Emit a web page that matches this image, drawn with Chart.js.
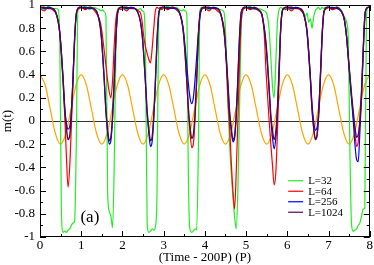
<!DOCTYPE html>
<html>
<head>
<meta charset="utf-8">
<script src="https://cdn.jsdelivr.net/npm/chart.js@4.4.0/dist/chart.umd.min.js"></script>
<style>
  html, body { margin: 0; padding: 0; background: #fff; }
  #wrap { width: 374px; height: 265px; }
</style>
</head>
<body>
<div id="wrap"><canvas id="magChart" width="374" height="265"></canvas></div>
<script>
// Magnetization m(t) over 8 field periods, several lattice sizes

const seriesLabels = ['L=32', 'L=64', 'L=256', 'L=1024'];
const seriesColors = ['#22ee22', '#ff0000', '#0000ff', '#4e0a4e'];

// sample times (in periods) shared by the four m(t) curves
const time = [
  0, 0.1, 0.2, 0.3, 0.38, 0.44, 0.48, 0.52, 0.56, 0.6, 0.64, 0.68, 0.72, 0.76, 0.8, 0.84, 0.88, 0.92, 0.96,
  1, 1.1, 1.2, 1.3, 1.38, 1.44, 1.48, 1.52, 1.56, 1.6, 1.64, 1.68, 1.72, 1.76, 1.8, 1.84, 1.88, 1.92, 1.96,
  2, 2.1, 2.2, 2.3, 2.38, 2.44, 2.48, 2.52, 2.56, 2.6, 2.64, 2.68, 2.72, 2.76, 2.8, 2.84, 2.88, 2.92, 2.96,
  3, 3.1, 3.2, 3.3, 3.38, 3.44, 3.48, 3.52, 3.56, 3.6, 3.64, 3.68, 3.72, 3.76, 3.8, 3.84, 3.88, 3.92, 3.96,
  4, 4.1, 4.2, 4.3, 4.38, 4.44, 4.48, 4.52, 4.56, 4.6, 4.64, 4.68, 4.72, 4.76, 4.8, 4.84, 4.88, 4.92, 4.96,
  5, 5.1, 5.2, 5.3, 5.38, 5.44, 5.48, 5.52, 5.56, 5.6, 5.64, 5.68, 5.72, 5.76, 5.8, 5.84, 5.88, 5.92, 5.96,
  6, 6.1, 6.2, 6.3, 6.38, 6.44, 6.48, 6.52, 6.56, 6.6, 6.64, 6.68, 6.72, 6.76, 6.8, 6.84, 6.88, 6.92, 6.96,
  7, 7.1, 7.2, 7.3, 7.38, 7.44, 7.48, 7.52, 7.56, 7.6, 7.64, 7.68, 7.72, 7.76, 7.8, 7.84, 7.88, 7.92, 7.96,
  8
];

const mL32 = [
  0.98, 0.96, 0.99, 0.97, 0.97, 0.96, 0.7, -0.8, -0.96, -0.95, -0.96, -0.94, -0.93, -0.9, -0.88, -0.86, -0.2, 0.97, 0.98,
  0.97, 0.99, 0.96, 0.98, 0.97, 0.96, 0.95, 0.96, 0.94, 0.9, -0.6, -0.78, -0.82, -0.92, -0.4, 0.6, 0.96, 0.98, 0.97,
  0.98, 0.96, 0.98, 0.97, 0.96, 0.97, 0.95, 0.94, 0.6, -0.9, -0.96, -0.95, -0.93, -0.94, -0.91, -0.6, 0.9, 0.98, 0.97,
  0.97, 0.99, 0.97, 0.98, 0.96, 0.95, 0.96, 0.95, 0.93, -0.5, -0.94, -0.96, -0.95, -0.93, -0.94, -0.3, 0.95, 0.98, 0.97,
  0.98, 0.96, 0.98, 0.97, 0.96, 0.95, 0.9, 0.6, 0.15, -0.2, -0.45, -0.65, -0.82, -0.93, -0.6, 0.1, 0.8, 0.97, 0.98,
  0.97, 0.99, 0.96, 0.97, 0.96, 0.95, 0.94, 0.9, 0.78, 0.55, 0.3, 0.2, 0.5, 0.85, 0.96, 0.98, 0.97, 0.98, 0.96,
  0.98, 0.96, 0.98, 0.97, 0.95, 0.9, 0.93, 0.85, 0.88, 0.8, 0.9, 0.95, 0.97, 0.98, 0.96, 0.98, 0.97, 0.98, 0.97,
  0.98, 0.96, 0.98, 0.96, 0.9, 0.85, 0.7, -0.3, -0.9, -0.95, -0.94, -0.93, -0.9, -0.88, -0.82, -0.76, -0.75, 0.9, 0.98,
  0.98
];

const mL64 = [
  0.97, 0.95, 0.98, 0.96, 0.93, 0.86, 0.76, 0.58, 0.33, 0.05, -0.3, -0.57, -0.4, -0.05, 0.35, 0.72, 0.92, 0.96, 0.97,
  0.98, 0.96, 0.98, 0.96, 0.92, 0.88, 0.82, 0.72, 0.6, 0.48, 0.35, 0.25, 0.2, 0.35, 0.65, 0.87, 0.95, 0.97, 0.96,
  0.97, 0.95, 0.98, 0.97, 0.95, 0.93, 0.85, 0.72, 0.64, 0.58, 0.53, 0.5, 0.62, 0.8, 0.95, 0.98, 0.97, 0.98, 0.96,
  0.98, 0.96, 0.98, 0.96, 0.93, 0.86, 0.76, 0.58, 0.35, 0.08, -0.1, -0.23, -0.2, 0.0, 0.33, 0.7, 0.92, 0.96, 0.97,
  0.97, 0.95, 0.98, 0.95, 0.92, 0.85, 0.76, 0.5, 0.18, -0.05, -0.35, -0.6, -0.76, -0.45, 0.0, 0.5, 0.85, 0.95, 0.97,
  0.98, 0.96, 0.97, 0.95, 0.92, 0.75, 0.45, 0.22, 0.0, -0.2, -0.38, -0.55, -0.45, -0.1, 0.35, 0.8, 0.95, 0.97, 0.96,
  0.97, 0.95, 0.98, 0.96, 0.93, 0.86, 0.76, 0.58, 0.36, 0.1, -0.06, -0.15, -0.12, 0.05, 0.35, 0.7, 0.92, 0.96, 0.97,
  0.98, 0.96, 0.97, 0.95, 0.88, 0.72, 0.55, 0.38, 0.2, 0.04, -0.1, -0.22, -0.18, 0.0, 0.25, 0.6, 0.9, 0.97, 0.98,
  0.98
];

const mL256 = [
  0.98, 0.97, 0.98, 0.97, 0.94, 0.86, 0.76, 0.58, 0.37, 0.12, -0.02, -0.07, -0.05, 0.08, 0.37, 0.72, 0.92, 0.97, 0.98,
  0.98, 0.98, 0.97, 0.97, 0.94, 0.86, 0.76, 0.57, 0.34, 0.08, -0.1, -0.2, -0.17, 0.02, 0.33, 0.7, 0.92, 0.97, 0.98,
  0.98, 0.97, 0.98, 0.97, 0.93, 0.85, 0.74, 0.55, 0.32, 0.06, -0.1, -0.22, -0.18, 0.02, 0.33, 0.7, 0.92, 0.97, 0.98,
  0.98, 0.98, 0.97, 0.97, 0.94, 0.87, 0.78, 0.64, 0.48, 0.32, 0.2, 0.15, 0.2, 0.35, 0.55, 0.75, 0.9, 0.96, 0.98,
  0.98, 0.97, 0.98, 0.97, 0.93, 0.83, 0.72, 0.53, 0.3, 0.06, -0.08, -0.18, -0.15, 0.04, 0.35, 0.72, 0.93, 0.97, 0.98,
  0.98, 0.98, 0.97, 0.96, 0.92, 0.8, 0.67, 0.48, 0.26, 0.02, -0.14, -0.24, -0.15, 0.08, 0.43, 0.8, 0.95, 0.97, 0.98,
  0.98, 0.97, 0.98, 0.97, 0.94, 0.86, 0.77, 0.6, 0.38, 0.14, 0.0, -0.08, -0.06, 0.08, 0.37, 0.71, 0.92, 0.97, 0.98,
  0.98, 0.98, 0.97, 0.95, 0.88, 0.72, 0.54, 0.36, 0.18, 0.0, -0.2, -0.33, -0.35, -0.1, 0.2, 0.58, 0.9, 0.97, 0.98,
  0.98
];

const mL1024 = [
  0.98, 0.98, 0.97, 0.97, 0.94, 0.86, 0.76, 0.58, 0.36, 0.1, -0.06, -0.16, -0.13, 0.05, 0.35, 0.7, 0.92, 0.97, 0.98,
  0.98, 0.97, 0.98, 0.97, 0.94, 0.86, 0.76, 0.58, 0.35, 0.09, -0.07, -0.17, -0.14, 0.04, 0.34, 0.7, 0.92, 0.97, 0.98,
  0.98, 0.98, 0.97, 0.97, 0.93, 0.85, 0.74, 0.56, 0.33, 0.08, -0.07, -0.17, -0.14, 0.05, 0.35, 0.7, 0.92, 0.97, 0.98,
  0.98, 0.97, 0.98, 0.97, 0.94, 0.86, 0.76, 0.58, 0.36, 0.11, -0.05, -0.15, -0.12, 0.06, 0.36, 0.71, 0.92, 0.97, 0.98,
  0.98, 0.98, 0.97, 0.97, 0.93, 0.83, 0.72, 0.54, 0.32, 0.08, -0.06, -0.16, -0.13, 0.05, 0.36, 0.72, 0.93, 0.97, 0.98,
  0.98, 0.97, 0.98, 0.96, 0.92, 0.8, 0.68, 0.5, 0.28, 0.05, -0.08, -0.16, -0.1, 0.1, 0.45, 0.8, 0.95, 0.97, 0.98,
  0.98, 0.98, 0.97, 0.97, 0.94, 0.86, 0.76, 0.58, 0.36, 0.1, -0.06, -0.16, -0.13, 0.05, 0.35, 0.7, 0.92, 0.97, 0.98,
  0.98, 0.97, 0.98, 0.95, 0.88, 0.72, 0.55, 0.38, 0.22, 0.08, -0.05, -0.14, -0.12, 0.0, 0.25, 0.6, 0.9, 0.97, 0.98,
  0.98
];

// applied field h(t), orange curve
const fieldTime = [
  0, 0.125, 0.25, 0.375, 0.5, 0.625, 0.75, 0.875,
  1, 1.125, 1.25, 1.375, 1.5, 1.625, 1.75, 1.875,
  2, 2.125, 2.25, 2.375, 2.5, 2.625, 2.75, 2.875,
  3, 3.125, 3.25, 3.375, 3.5, 3.625, 3.75, 3.875,
  4, 4.125, 4.25, 4.375, 4.5, 4.625, 4.75, 4.875,
  5, 5.125, 5.25, 5.375, 5.5, 5.625, 5.75, 5.875,
  6, 6.125, 6.25, 6.375, 6.5, 6.625, 6.75, 6.875,
  7, 7.125, 7.25, 7.375, 7.5, 7.625, 7.75, 7.875,
  8
];
const field = [
  0.4, 0.31, 0.1, -0.11, -0.2, -0.11, 0.1, 0.31,
  0.4, 0.31, 0.1, -0.11, -0.2, -0.11, 0.1, 0.31,
  0.4, 0.31, 0.1, -0.11, -0.2, -0.11, 0.1, 0.31,
  0.4, 0.31, 0.1, -0.11, -0.2, -0.11, 0.1, 0.31,
  0.4, 0.31, 0.1, -0.11, -0.2, -0.11, 0.1, 0.31,
  0.4, 0.31, 0.1, -0.11, -0.2, -0.11, 0.1, 0.31,
  0.4, 0.31, 0.1, -0.11, -0.2, -0.11, 0.1, 0.31,
  0.4, 0.31, 0.1, -0.11, -0.2, -0.11, 0.1, 0.31,
  0.4
];

const xTicks = [0, 1, 2, 3, 4, 5, 6, 7, 8];
const xMinorTicks = [0.5, 1.5, 2.5, 3.5, 4.5, 5.5, 6.5, 7.5];
const yTicks = [-1, -0.8, -0.6, -0.4, -0.2, 0, 0.2, 0.4, 0.6, 0.8, 1];
const yMinorTicks = [-0.9, -0.7, -0.5, -0.3, -0.1, 0.1, 0.3, 0.5, 0.7, 0.9];

const toPoints = (xs, ys) => xs.map((x, i) => ({ x: x, y: ys[i] }));

// frame, inward ticks, legend and panel label
const framePlugin = {
    id: 'frame',
    afterDatasetsDraw(chart) {
        const { ctx, chartArea: a, scales: { x, y } } = chart;
        ctx.save();
        ctx.strokeStyle = '#000';
        ctx.lineWidth = 1;
        ctx.strokeRect(Math.round(a.left) + 0.5, Math.round(a.top) + 0.5,
            Math.round(a.right - a.left) - 1, Math.round(a.bottom - a.top) - 1);

        ctx.beginPath();
        const xt = (vals, len) => vals.forEach(v => {
            const px = Math.round(x.getPixelForValue(v)) + 0.5;
            ctx.moveTo(px, a.bottom); ctx.lineTo(px, a.bottom - len);
            ctx.moveTo(px, a.top); ctx.lineTo(px, a.top + len);
        });
        const yt = (vals, len) => vals.forEach(v => {
            const py = Math.round(y.getPixelForValue(v)) + 0.5;
            ctx.moveTo(a.left, py); ctx.lineTo(a.left + len, py);
            ctx.moveTo(a.right, py); ctx.lineTo(a.right - len, py);
        });
        xt(xTicks, 6); xt(xMinorTicks, 3);
        yt(yTicks, 6); yt(yMinorTicks, 3);
        ctx.stroke();

        // legend
        const lx = x.getPixelForValue(6.02);
        const ly = y.getPixelForValue(-0.515);
        ctx.font = '11px "Liberation Serif"';
        ctx.textBaseline = 'middle';
        ctx.fillStyle = '#000';
        seriesLabels.forEach((lab, i) => {
            const py = ly + i * 10.5;
            ctx.strokeStyle = seriesColors[i];
            ctx.lineWidth = 1.2;
            ctx.beginPath();
            ctx.moveTo(lx, py); ctx.lineTo(lx + 15, py);
            ctx.stroke();
            ctx.fillText(lab, lx + 20, py + 0.5);
        });

        ctx.font = '17px "Liberation Serif"';
        ctx.textAlign = 'center';
        ctx.fillText('(a)', x.getPixelForValue(1.21), y.getPixelForValue(-0.835));
        ctx.restore();
    }
};

Chart.defaults.font.family = '"Liberation Serif", serif';
Chart.defaults.font.size = 13;
Chart.defaults.color = '#000';

const ctx = document.getElementById('magChart').getContext('2d');

new Chart(ctx, {
    type: 'line',
    data: {
        datasets: [
            { label: seriesLabels[3], data: toPoints(time, mL1024), borderColor: seriesColors[3], borderWidth: 1.4, order: 0 },
            { label: seriesLabels[2], data: toPoints(time, mL256), borderColor: seriesColors[2], borderWidth: 1.2, order: 1 },
            { label: seriesLabels[1], data: toPoints(time, mL64), borderColor: seriesColors[1], borderWidth: 1.2, order: 2 },
            { label: seriesLabels[0], data: toPoints(time, mL32), borderColor: seriesColors[0], borderWidth: 1.2, order: 3 },
            { label: 'h(t)', data: toPoints(fieldTime, field), borderColor: '#ffa500', borderWidth: 1.2, order: 4 }
        ]
    },
    options: {
        responsive: false,
        animation: false,
        devicePixelRatio: 1,
        elements: {
            point: { radius: 0 },
            line: { cubicInterpolationMode: 'monotone', fill: false }
        },
        layout: { padding: { left: 0, right: 4, top: 5, bottom: 0 } },
        scales: {
            x: {
                type: 'linear',
                min: 0,
                max: 8,
                afterBuildTicks: s => { s.ticks = xTicks.map(v => ({ value: v })); },
                afterFit: s => { s.height = 28; },
                grid: { display: false, drawTicks: false },
                border: { display: false },
                ticks: { padding: 1, maxRotation: 0, callback: v => String(v) },
                title: { display: true, text: '(Time - 200P) (P)', padding: 0, font: { size: 13 } }
            },
            y: {
                min: -1,
                max: 1,
                afterBuildTicks: s => { s.ticks = yTicks.map(v => ({ value: v })); },
                afterFit: s => { s.width = 40; s.paddingTop = 0; s.paddingBottom = 0; },
                grid: {
                    drawTicks: false,
                    color: c => (c.tick && c.tick.value === 0) ? '#333' : 'rgba(0,0,0,0)'
                },
                border: { display: false },
                ticks: { padding: 5, callback: v => String(v) },
                title: { display: true, text: 'm(t)', padding: 0, font: { size: 13 } }
            }
        },
        plugins: {
            legend: { display: false },
            tooltip: { enabled: false }
        }
    },
    plugins: [framePlugin]
});
</script>
</body>
</html>
